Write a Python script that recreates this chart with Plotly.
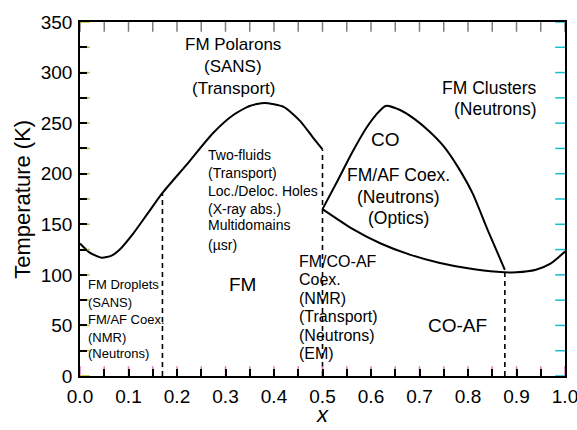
import plotly.graph_objects as go

# ---- data ----
# FM transition line (left/upper curve)
fm_x = [0.0, 0.02, 0.045, 0.065, 0.082, 0.11, 0.14, 0.17, 0.22, 0.274, 0.316, 0.35, 0.38, 0.42, 0.454, 0.48, 0.5]
fm_T = [131, 122, 117, 119, 125, 141, 161, 181, 209, 240, 258, 267, 270, 266, 252, 236, 224]

# charge-order dome
co_x = [0.5, 0.53, 0.56, 0.59, 0.61, 0.63, 0.66, 0.69, 0.72, 0.75, 0.78, 0.81, 0.84, 0.876]
co_T = [165, 192, 220, 245, 258, 267, 263, 254, 242, 227, 206, 180, 145, 105]

# lower (AF) boundary
af_x = [0.5, 0.56, 0.62, 0.68, 0.74, 0.8, 0.86, 0.9, 0.94, 0.97, 1.0]
af_T = [165, 146, 131, 120, 112, 106.5, 103, 102.5, 105, 111, 123]

# dashed vertical phase separators
dash_x = [0.17, 0.5, 0.876]
dash_top = [181, 224, 104]

# tick positions (labelled every 0.1 / 50 K, unlabelled ticks in between)
x_ticks = [0.0, 0.05, 0.1, 0.15, 0.2, 0.25, 0.3, 0.35, 0.4, 0.45, 0.5,
           0.55, 0.6, 0.65, 0.7, 0.75, 0.8, 0.85, 0.9, 0.95, 1.0]
y_ticks = [0, 25, 50, 75, 100, 125, 150, 175, 200, 225, 250, 275, 300, 325, 350]

X_RANGE = [0, 1]
Y_RANGE = [0, 350]

FONT = "Arial, Liberation Sans, sans-serif"

fig = go.Figure()

for xs, ys in [(fm_x, fm_T), (co_x, co_T), (af_x, af_T)]:
    fig.add_trace(go.Scatter(x=xs, y=ys, mode="lines",
                             line=dict(color="black", width=2, shape="spline", smoothing=0.6),
                             hoverinfo="skip", showlegend=False))

for xv, top in zip(dash_x, dash_top):
    fig.add_trace(go.Scatter(x=[xv, xv], y=[0, top], mode="lines",
                             line=dict(color="black", width=1.6, dash="5px,4px"),
                             hoverinfo="skip", showlegend=False))

# inward tick marks on all four frame sides (markers clipped to the plot area,
# so only the inner half of each 14px line is visible)
for edge in Y_RANGE:
    fig.add_trace(go.Scatter(x=x_ticks, y=[edge] * len(x_ticks), mode="markers",
                             marker=dict(symbol="line-ns-open", size=14,
                                         line=dict(width=1.5, color="black")),
                             cliponaxis=True, hoverinfo="skip", showlegend=False))
for edge in X_RANGE:
    fig.add_trace(go.Scatter(x=[edge] * len(y_ticks), y=y_ticks, mode="markers",
                             marker=dict(symbol="line-ew-open", size=14,
                                         line=dict(width=1.5, color="black")),
                             cliponaxis=True, hoverinfo="skip", showlegend=False))

annotations = []


def block(lines, x, ys, size, anchor):
    for text, yv in zip(lines, ys):
        annotations.append(dict(x=x, y=yv, xref="x", yref="y", text=text,
                                showarrow=False, xanchor=anchor, yanchor="middle",
                                align=anchor, borderpad=0,
                                font=dict(family=FONT, size=size, color="black")))


block(["FM Polarons", "(SANS)", "(Transport)"], 0.316, [328, 306, 284], 17, "center")
block(["FM Clusters", "(Neutrons)"], 0.944, [285, 264], 17.5, "right")
block(["CO"], 0.63, [234], 19, "center")
block(["FM/AF Coex.", "(Neutrons)", "(Optics)"], 0.657, [199, 177, 156], 17.5, "center")
block(["Two-fluids", "(Transport)", "Loc./Deloc. Holes", "(X-ray abs.)", "Multidomains", "(µsr)"],
      0.262, [219, 201, 183, 165, 149, 130], 14, "left")
block(["FM"], 0.336, [90], 19, "center")
block(["FM Droplets", "(SANS)", "FM/AF Coex.", "(NMR)", "(Neutrons)"],
      0.0145, [90, 73, 56, 38, 22], 13, "left")
block(["FM/CO-AF", "Coex.", "(NMR)", "(Transport)", "(Neutrons)", "(EM)"],
      0.449, [113, 95, 77, 59, 40, 22], 16, "left")
block(["CO-AF"], 0.779, [50], 19, "center")

# axis titles
annotations.append(dict(text="<i>x</i>", xref="paper", yref="paper", x=0.5, y=-0.148,
                        xanchor="center", yanchor="bottom", showarrow=False, borderpad=0,
                        font=dict(family=FONT, size=22, color="black")))
annotations.append(dict(text="Temperature (K)", xref="paper", yref="paper", x=-0.12, y=0.5,
                        xanchor="center", yanchor="middle", showarrow=False, textangle=-90,
                        font=dict(family=FONT, size=22, color="black")))

axis_common = dict(showgrid=False, zeroline=False, showline=True, linecolor="black",
                   linewidth=1.5, mirror=True, ticks="inside", ticklen=7,
                   tickwidth=1.5, tickcolor="black", automargin=False,
                   ticklabeloverflow="allow",
                   tickfont=dict(family=FONT, size=19, color="black"))

fig.update_layout(
    template="none",
    width=577, height=430,
    margin=dict(l=80, r=12, t=22, b=54, autoexpand=False),
    paper_bgcolor="white", plot_bgcolor="white",
    annotations=annotations,
    xaxis=dict(range=X_RANGE, tickvals=x_ticks,
               ticktext=[f"{v:.1f}" if i % 2 == 0 else "" for i, v in enumerate(x_ticks)],
               ticklabelstandoff=2, **axis_common),
    yaxis=dict(range=Y_RANGE, tickvals=y_ticks,
               ticktext=[str(v) if i % 2 == 0 else "" for i, v in enumerate(y_ticks)],
               ticklabelstandoff=2, **axis_common),
)

fig.write_html("out.html")
